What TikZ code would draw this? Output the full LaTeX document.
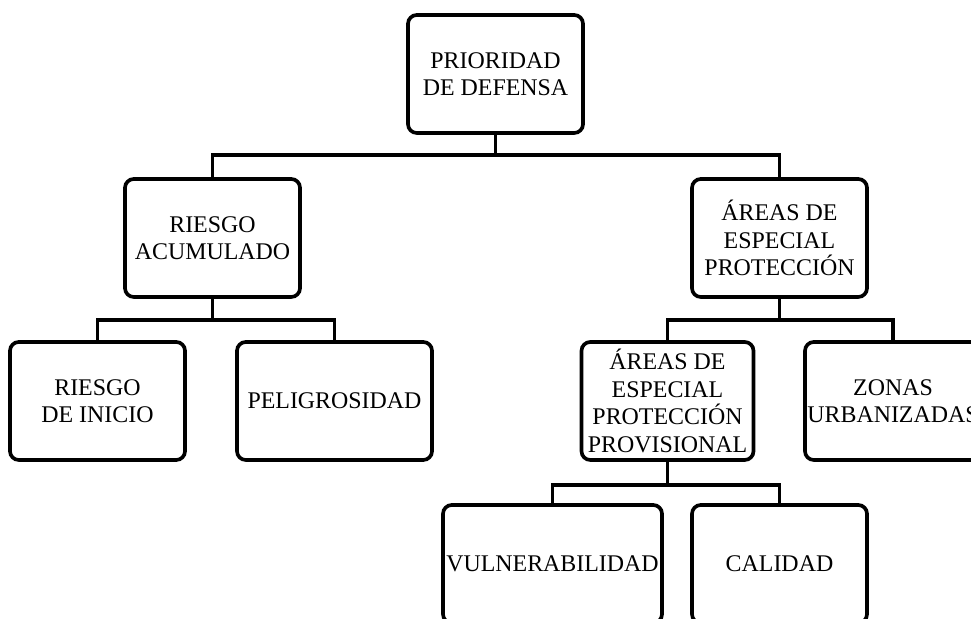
\documentclass[tikz,border=0pt]{standalone}
\usepackage{fontspec}
\setmainfont{Liberation Serif}
\usepackage{tikz}
\usetikzlibrary{calc,positioning}
\tikzstyle{box}  = [draw=black, line width=2.6pt, rounded corners=0.22cm, fill=white, align=center, inner sep=0pt, minimum width=4.375cm, minimum height=2.95cm, font=\fontsize{17}{19.5}\selectfont]
\tikzstyle{link} = [line width=2.6pt, -]

\begin{document}
\begin{tikzpicture}[]
		\useasboundingbox (0,0) rectangle (24.275,15.475);
		\clip (0,0) rectangle (24.275,15.475);

		% first and second level
		\node[box] (prio) at (12.3875,13.625) {PRIORIDAD\\DE DEFENSA};
		\node[box] (acum) at (5.3125,9.525) {RIESGO\\ACUMULADO};
		\node[box] (areas) at (19.4875,9.525) {ÁREAS DE\\ESPECIAL\\PROTECCIÓN};

		% third level
		\node[box] (inicio) at (2.4375,5.45) {RIESGO\\DE INICIO};
		\node[box, minimum width=4.875cm] (peli) at (8.3625,5.45) {PELIGROSIDAD};
		\node[box, minimum width=4.3cm] (prov) at (16.6875,5.45) {ÁREAS DE\\ESPECIAL\\PROTECCIÓN\\PROVISIONAL};
		\node[box, minimum width=4.4cm] (zonas) at (22.325,5.45) {ZONAS\\URBANIZADAS};

		% fourth level
		\node[box, minimum width=5.475cm] (vuln) at (13.8125,1.375) {VULNERABILIDAD};
		\node[box] (cal) at (19.4875,1.375) {CALIDAD};

		\coordinate (j0) at (12.3875,11.6);
		\coordinate (j1) at (5.3125,7.475);
		\coordinate (j2) at (19.4875,7.475);
		\coordinate (j3) at (16.6875,3.35);

		\draw[link] (prio.south) -- (j0);
		\draw[link] (acum.north) |- (j0) -| (areas.north);
		\draw[link] (acum.south) -- (j1);
		\draw[link] (inicio.north) |- (j1) -| (peli.north);
		\draw[link] (areas.south) -- (j2);
		\draw[link] (prov.north) |- (j2) -| (zonas.north);
		\draw[link] (prov.south) -- (j3);
		\draw[link] (vuln.north) |- (j3) -| (cal.north);
	\end{tikzpicture}
\end{document}
